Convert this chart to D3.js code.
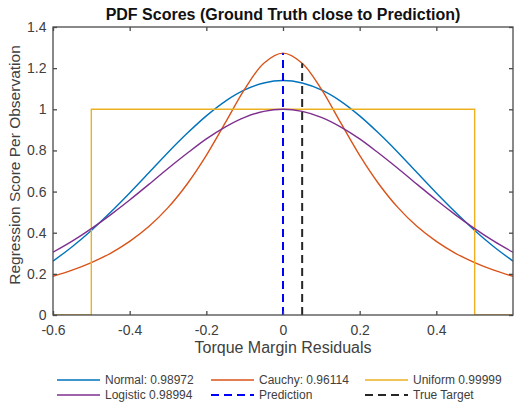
<!DOCTYPE html>
<html>
<head>
<meta charset="utf-8">
<title>PDF Scores</title>
<script src="https://cdnjs.cloudflare.com/ajax/libs/d3/7.8.5/d3.min.js"></script>
<style>
body { margin: 0; background: #fff; font-family: "Liberation Sans", Arial, sans-serif; }
.tick text { font-size: 14px; fill: #404040; }
</style>
</head>
<body>
<svg width="514" height="404"></svg>
<script>
var residuals = [-0.6,-0.55,-0.5,-0.45,-0.4,-0.35,-0.3,-0.25,-0.2,-0.15,-0.1,-0.05,0,
                 0.05,0.1,0.15,0.2,0.25,0.3,0.35,0.4,0.45,0.5,0.55,0.6];
var normalScores = [0.262,0.332,0.411,0.499,0.593,0.691,0.790,0.883,0.968,1.040,1.094,1.128,1.140,
                    1.128,1.094,1.040,0.968,0.883,0.790,0.691,0.593,0.499,0.411,0.332,0.262];
var cauchyScores = [0.188,0.218,0.255,0.300,0.358,0.430,0.522,0.637,0.776,0.936,1.098,1.224,1.273,
                    1.224,1.098,0.936,0.776,0.637,0.522,0.430,0.358,0.300,0.255,0.218,0.188];
var logisticScores = [0.305,0.359,0.420,0.487,0.559,0.635,0.712,0.786,0.856,0.915,0.961,0.990,1.000,
                      0.990,0.961,0.915,0.856,0.786,0.712,0.635,0.559,0.487,0.420,0.359,0.305];
var uniformX = [-0.6,-0.5,-0.5,0.5,0.5,0.6];
var uniformY = [0,0,1,1,0,0];
var prediction = 0, predictionTop = 1.273;
var trueTarget = 0.05, trueTargetTop = 1.224;
var xTicks = [-0.6,-0.4,-0.2,0,0.2,0.4];
var yTicks = [0,0.2,0.4,0.6,0.8,1,1.2,1.4];
var legendNames = ["Normal: 0.98972","Cauchy: 0.96114","Uniform 0.99999",
                   "Logistic 0.98994","Prediction","True Target"];

var svg = d3.select("svg");

var pLeft = 53, pRight = 513, pTop = 27, pBottom = 315;
var x = d3.scaleLinear().domain([-0.6, 0.6]).range([pLeft, pRight]);
var y = d3.scaleLinear().domain([0, 1.4]).range([pBottom, pTop]);

svg.append("clipPath").attr("id", "plotclip")
  .append("rect").attr("x", pLeft).attr("y", pTop)
  .attr("width", pRight - pLeft).attr("height", pBottom - pTop);

var plot = svg.append("g").attr("clip-path", "url(#plotclip)");

var smooth = d3.line()
  .x(function(d) { return x(d[0]); })
  .y(function(d) { return y(d[1]); })
  .curve(d3.curveCatmullRom);
var straight = d3.line()
  .x(function(d) { return x(d[0]); })
  .y(function(d) { return y(d[1]); });

function zipPts(xs, ys) {
  return xs.map(function(v, i) { return [v, ys[i]]; });
}

var series = [
  {pts: zipPts(residuals, normalScores), color: "#0072BD", curve: true},
  {pts: zipPts(residuals, cauchyScores), color: "#D95319", curve: true},
  {pts: zipPts(uniformX, uniformY), color: "#EDB120", curve: false},
  {pts: zipPts(residuals, logisticScores), color: "#7E2F8E", curve: true}
];

series.forEach(function(s) {
  plot.append("path")
    .attr("d", (s.curve ? smooth : straight)(s.pts))
    .attr("fill", "none")
    .attr("stroke", s.color)
    .attr("stroke-width", 1.4);
});

// vertical dashed markers
plot.append("line")
  .attr("x1", x(prediction)).attr("x2", x(prediction))
  .attr("y1", y(0)).attr("y2", y(predictionTop))
  .attr("stroke", "#0000FF").attr("stroke-width", 2)
  .attr("stroke-dasharray", "8,5");

plot.append("line")
  .attr("x1", x(trueTarget)).attr("x2", x(trueTarget))
  .attr("y1", y(0)).attr("y2", y(trueTargetTop))
  .attr("stroke", "#262626").attr("stroke-width", 2)
  .attr("stroke-dasharray", "8,5");

// axes (box with inward ticks on all sides)
var axisColor = "#4a4a4a";
svg.append("g")
  .attr("transform", "translate(0," + pBottom + ")")
  .call(d3.axisBottom(x).tickValues(xTicks).tickSize(-4).tickPadding(10)
        .tickFormat(d3.format("")));
svg.append("g")
  .attr("transform", "translate(0," + pTop + ")")
  .call(d3.axisTop(x).tickValues(xTicks).tickSize(-4).tickFormat(""));
svg.append("g")
  .attr("transform", "translate(" + pLeft + ",0)")
  .call(d3.axisLeft(y).tickValues(yTicks).tickSize(-4).tickPadding(6.5)
        .tickFormat(d3.format("")));
svg.append("g")
  .attr("transform", "translate(" + pRight + ",0)")
  .call(d3.axisRight(y).tickValues(yTicks).tickSize(-4).tickFormat(""));

svg.selectAll(".domain").remove();
svg.selectAll(".tick line").attr("stroke", axisColor).attr("stroke-width", 1.3);
svg.selectAll(".tick text").text(function() {
  return d3.select(this).text().replace("\u2212", "-");
});

svg.append("rect")
  .attr("x", pLeft).attr("y", pTop)
  .attr("width", pRight - pLeft).attr("height", pBottom - pTop)
  .attr("fill", "none")
  .attr("stroke", axisColor)
  .attr("stroke-width", 1.3);

// title and axis labels
svg.append("text")
  .attr("x", (pLeft + pRight) / 2).attr("y", 19.5)
  .attr("text-anchor", "middle")
  .style("font-size", "16px").style("font-weight", "bold")
  .attr("fill", "#111")
  .text("PDF Scores (Ground Truth close to Prediction)");

svg.append("text")
  .attr("x", (pLeft + pRight) / 2).attr("y", 353)
  .attr("text-anchor", "middle")
  .style("font-size", "16px")
  .attr("fill", "#404040")
  .text("Torque Margin Residuals");

svg.append("text")
  .attr("transform", "translate(20," + 165 + ") rotate(-90)")
  .attr("text-anchor", "middle")
  .style("font-size", "15.5px")
  .attr("fill", "#404040")
  .text("Regression Score Per Observation");

// legend, three columns, two rows
var legendColors = ["#0072BD","#D95319","#EDB120","#7E2F8E","#0000FF","#262626"];
var legendDash = [null,null,null,null,"8,5","8,5"];
var colX = [57, 211, 365];
var rowY = [380, 395];

legendNames.forEach(function(name, i) {
  var cx = colX[i % 3], cy = rowY[Math.floor(i / 3)];
  svg.append("line")
    .attr("x1", cx).attr("x2", cx + 43)
    .attr("y1", cy).attr("y2", cy)
    .attr("stroke", legendColors[i])
    .attr("stroke-width", legendDash[i] ? 2 : 1.4)
    .attr("stroke-dasharray", legendDash[i]);
  svg.append("text")
    .attr("x", cx + 48).attr("y", cy + 4)
    .style("font-size", "12px")
    .attr("fill", "#404040")
    .text(name);
});
</script>
</body>
</html>
